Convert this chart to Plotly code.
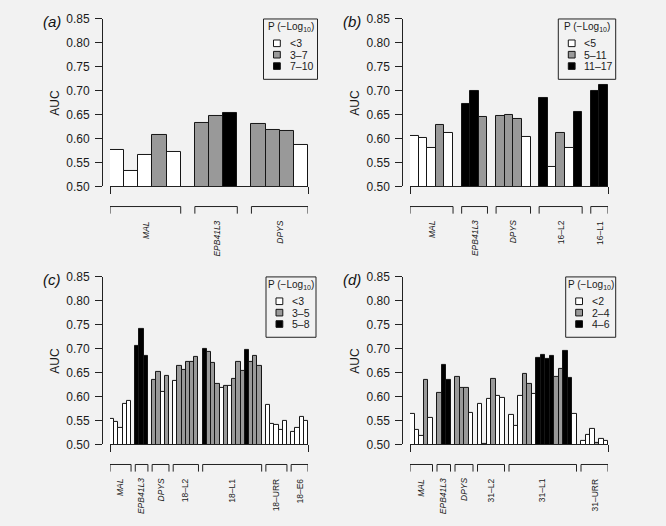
import plotly.graph_objects as go

W, H = 666, 526

# ---------------- data ----------------
groups_a = ["MAL", "EPB41L3", "DPYS"]
auc_a = [[0.577, 0.533, 0.565, 0.608, 0.573],
         [0.632, 0.648, 0.653],
         [0.630, 0.619, 0.616, 0.586]]
pcat_a = [[0, 0, 0, 1, 0], [1, 1, 2], [1, 1, 1, 0]]
legend_a = ["<3", "3–7", "7–10"]

groups_b = ["MAL", "EPB41L3", "DPYS", "16–L2", "16–L1"]
auc_b = [[0.605, 0.601, 0.580, 0.629, 0.611],
         [0.673, 0.700, 0.645],
         [0.648, 0.650, 0.640, 0.603],
         [0.684, 0.541, 0.612, 0.581, 0.655],
         [0.700, 0.712]]
pcat_b = [[0, 0, 0, 1, 0], [2, 2, 1], [1, 1, 1, 0], [2, 0, 1, 0, 2], [2, 2]]
legend_b = ["<5", "5–11", "11–17"]

groups_c = ["MAL", "EPB41L3", "DPYS", "18–L2", "18–L1", "18–URR", "18–E6"]
auc_c = [[0.554, 0.546, 0.535, 0.585, 0.591],
         [0.706, 0.741, 0.684],
         [0.635, 0.651, 0.610, 0.643],
         [0.632, 0.664, 0.656, 0.672, 0.673, 0.683],
         [0.700, 0.694, 0.670, 0.626, 0.617, 0.622, 0.622, 0.636, 0.672, 0.654,
          0.697, 0.673, 0.685, 0.663],
         [0.583, 0.543, 0.541, 0.531, 0.549],
         [0.526, 0.535, 0.558, 0.550]]
pcat_c = [[0, 0, 0, 0, 0], [2, 2, 2], [1, 1, 0, 1], [0, 1, 1, 1, 1, 1],
          [2, 1, 1, 1, 0, 1, 0, 1, 1, 1, 2, 1, 1, 1],
          [0, 0, 0, 0, 0], [0, 0, 0, 0]]
legend_c = ["<3", "3–5", "5–8"]

groups_d = ["MAL", "EPB41L3", "DPYS", "31–L2", "31–L1", "31–URR"]
auc_d = [[0.564, 0.531, 0.517, 0.634, 0.556],
         [0.607, 0.665, 0.634],
         [0.640, 0.618, 0.617, 0.566],
         [0.585, 0.500, 0.595, 0.637, 0.601, 0.597],
         [0.562, 0.538, 0.602, 0.647, 0.626, 0.606, 0.680, 0.687, 0.678, 0.685,
          0.642, 0.658, 0.695, 0.639, 0.563],
         [0.508, 0.520, 0.533, 0.504, 0.512, 0.507]]
pcat_d = [[0, 0, 0, 1, 0], [1, 2, 2], [1, 1, 1, 0], [0, 0, 0, 1, 0, 0],
          [0, 0, 0, 1, 1, 0, 2, 2, 2, 2, 1, 1, 2, 2, 0],
          [0, 0, 0, 1, 0, 0]]
legend_d = ["<2", "2–4", "4–6"]

y_ticks = [0.50, 0.55, 0.60, 0.65, 0.70, 0.75, 0.80, 0.85]
italic_groups = {"MAL", "EPB41L3", "DPYS"}
panel_labels = ["(a)", "(b)", "(c)", "(d)"]

# ---------------- styling / geometry (pixels) ----------------
FONT = "Liberation Sans, Arial, sans-serif"
BG = "#f2f2f2"
EDGE = "#151515"
AX = "#222222"
fills = ["#ffffff", "#999999", "#000000"]

panels = [
    dict(groups=groups_a, auc=auc_a, pcat=pcat_a, leg=legend_a,
         x0=110, x1=308, yt=12.3, yb=184.3, yx=102, lab_x=41, auc_x=55,
         box=(263.5, 12.3, 317.5, 74.3)),
    dict(groups=groups_b, auc=auc_b, pcat=pcat_b, leg=legend_b,
         x0=410, x1=608, yt=12.3, yb=184.3, yx=402.3, lab_x=341, auc_x=355,
         box=(558.3, 12.3, 615.7, 74.3)),
    dict(groups=groups_c, auc=auc_c, pcat=pcat_c, leg=legend_c,
         x0=110, x1=308, yt=277.3, yb=449.3, yx=102, lab_x=41, auc_x=55,
         box=(266, 277.3, 316, 339.3)),
    dict(groups=groups_d, auc=auc_d, pcat=pcat_d, leg=legend_d,
         x0=410, x1=608, yt=277.3, yb=449.3, yx=402.3, lab_x=341, auc_x=355,
         box=(565.7, 277.3, 615.7, 339.3)),
]


def px(xp):
    return xp / W


def py(yp):
    return 1 - yp / H


fig = go.Figure()
shapes = []
annotations = []

for i, p in enumerate(panels):
    n = i + 1
    xa = "x" if n == 1 else f"x{n}"
    ya = "y" if n == 1 else f"y{n}"
    xkey = "xaxis" if n == 1 else f"xaxis{n}"
    ykey = "yaxis" if n == 1 else f"yaxis{n}"

    pos, vals, cats, spans = [], [], [], []
    slot = 0
    for g, (gv, gc) in enumerate(zip(p["auc"], p["pcat"])):
        start = slot
        for v, c in zip(gv, gc):
            pos.append(slot + 0.5)
            vals.append(v)
            cats.append(c)
            slot += 1
        spans.append((start, slot))
        slot += 1
    total = slot - 1

    for c in range(3):
        xs = [x for x, k in zip(pos, cats) if k == c]
        ys = [v for v, k in zip(vals, cats) if k == c]
        fig.add_trace(go.Bar(
            x=xs, y=ys, width=1,
            marker=dict(color=fills[c], line=dict(color=EDGE, width=1)),
            xaxis=xa, yaxis=ya, showlegend=False, hoverinfo="skip"))

    fig.layout[xkey] = dict(
        domain=[px(p["x0"]), px(p["x1"])], range=[0, total], anchor=ya,
        showline=True, linecolor=AX, linewidth=1, ticks="outside",
        tickvals=[0, total], ticklen=7, tickcolor=AX, tickwidth=1,
        showticklabels=False, showgrid=False, zeroline=False, fixedrange=True)
    fig.layout[ykey] = dict(
        domain=[py(p["yb"]), py(p["yt"])], range=[0.5, 0.85],
        anchor="free", position=px(p["yx"]),
        showline=True, linecolor=AX, linewidth=1, ticks="outside",
        tickvals=y_ticks, ticktext=[f"{t:.2f}" for t in y_ticks],
        ticklen=7, tickcolor=AX, tickwidth=1, ticklabelstandoff=3,
        tickfont=dict(family=FONT, size=12, color="#1a1a1a"),
        showgrid=False, zeroline=False, fixedrange=True)

    # brackets and group labels
    base = p["yb"]
    for (s, e), gname in zip(spans, p["groups"]):
        yh = py(base + 20.7)
        yl = py(base + 28)
        shapes.append(dict(
            type="path", xref=xa, yref="paper",
            path=f"M {s},{yl} L {s},{yh} L {e},{yh} L {e},{yl}",
            line=dict(color=AX, width=1)))
        txt = f"<i>{gname}</i>" if gname in italic_groups else gname
        annotations.append(dict(
            x=(s + e) / 2, xref=xa, y=py(base + 33), yref="paper",
            text=txt, textangle=-90, xanchor="center", yanchor="top",
            showarrow=False, font=dict(family=FONT, size=8.5, color="#1a1a1a")))

    # AUC title
    annotations.append(dict(
        x=px(p["auc_x"]), y=py((p["yt"] + p["yb"]) / 2),
        xref="paper", yref="paper", text="AUC", textangle=-90,
        xanchor="center", yanchor="middle", showarrow=False,
        font=dict(family=FONT, size=12, color="#1a1a1a")))

    # panel label
    annotations.append(dict(
        x=px(p["lab_x"]), y=py(p["yt"] + 3), xref="paper", yref="paper",
        text=f"<i>{panel_labels[i]}</i>", xanchor="left", yanchor="middle",
        showarrow=False, font=dict(family=FONT, size=15, color="#111")))

    # legend box
    bx0, by0, bx1, by1 = p["box"]
    shapes.append(dict(type="rect", xref="paper", yref="paper",
                       x0=px(bx0), x1=px(bx1), y0=py(by1), y1=py(by0),
                       line=dict(color=AX, width=1), fillcolor=BG))
    annotations.append(dict(
        x=px((bx0 + bx1) / 2), y=py(by0 + 8.5), xref="paper", yref="paper",
        text="P (−Log<sub>10</sub>)", xanchor="center", yanchor="middle",
        showarrow=False, font=dict(family=FONT, size=10, color="#1a1a1a")))
    for k, lab in enumerate(p["leg"]):
        yc = by0 + 25 + 11.7 * k
        shapes.append(dict(type="rect", xref="paper", yref="paper",
                           x0=px(bx0 + 10), x1=px(bx0 + 16.8),
                           y0=py(yc + 3.4), y1=py(yc - 3.4),
                           line=dict(color=EDGE, width=1), fillcolor=fills[k]))
        annotations.append(dict(
            x=px(bx0 + 24), y=py(yc), xref="paper", yref="paper",
            text=lab, xanchor="left", yanchor="middle", showarrow=False,
            font=dict(family=FONT, size=10.5, color="#1a1a1a")))

fig.update_layout(
    width=W, height=H, margin=dict(l=0, r=0, t=0, b=0),
    paper_bgcolor=BG, plot_bgcolor=BG, barmode="overlay", bargap=0,
    shapes=shapes, annotations=annotations, showlegend=False,
    font=dict(family=FONT, color="#1a1a1a"))

fig.write_html(
    "out.html", config={"displayModeBar": False},
    post_script="document.body.style.margin='0';"
                "document.body.style.padding='0';"
                "document.body.style.overflow='hidden';"
                "document.body.style.background='" + BG + "';")
